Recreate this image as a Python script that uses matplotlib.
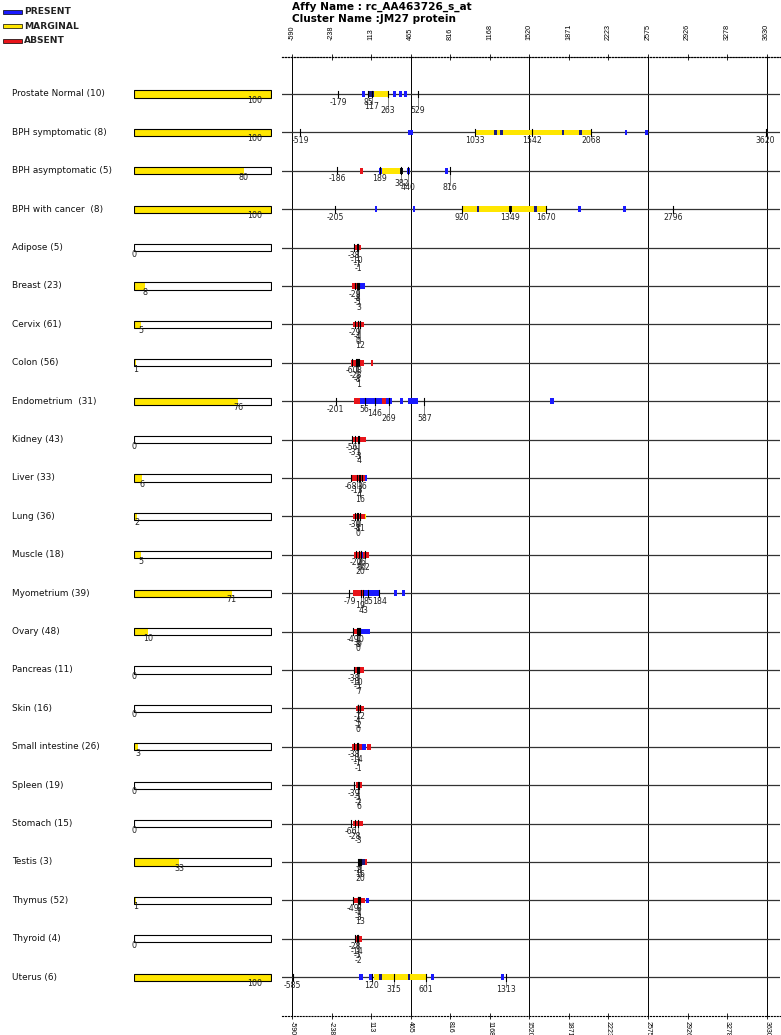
import numpy as np
import matplotlib.pyplot as plt
from matplotlib.patches import Rectangle

# -----------------------------
# DATA
# -----------------------------
affy_name = "rc_AA463726_s_at"
cluster_name = "JM27 protein"

tissues = ["Prostate Normal (10)", "BPH symptomatic (8)", "BPH asymptomatic (5)",
           "BPH with cancer  (8)", "Adipose (5)", "Breast (23)", "Cervix (61)",
           "Colon (56)", "Endometrium  (31)", "Kidney (43)", "Liver (33)", "Lung (36)",
           "Muscle (18)", "Myometrium (39)", "Ovary (48)", "Pancreas (11)", "Skin (16)",
           "Small intestine (26)", "Spleen (19)", "Stomach (15)", "Testis (3)",
           "Thymus (52)", "Thyroid (4)", "Uterus (6)"]
percent = [100, 100, 80, 100, 0, 8, 5, 1, 76, 0, 6, 2, 5, 71, 10, 0, 0, 3, 0, 0, 33, 1, 0, 100]

axis_ticks = [-590, -238, 113, 465, 816, 1168, 1520, 1871, 2223, 2575, 2926, 3278, 3630]
major_lines = [-590, 465, 1520, 2575, 3630]

# segments per row: (start, end, call)  P=present, M=marginal, A=absent, D=dark present, K=black
segments = [
    [(32, 62, "P"), (118, 263, "M"), (83, 139, "D"), (311, 335, "P"), (364, 388, "P"), (408, 435, "P")],
    [(445, 485, "P"), (1033, 2068, "M"), (1208, 1230, "D"), (1259, 1283, "D"), (1808, 1831, "D"),
     (1962, 1986, "D"), (2370, 2391, "P"), (2548, 2572, "P")],
    [(10, 40, "A"), (183, 207, "P"), (207, 400, "M"), (370, 400, "K"), (430, 459, "P"), (770, 794, "P")],
    [(148, 168, "P"), (486, 506, "P"), (920, 1670, "M"), (1051, 1075, "D"), (1339, 1366, "K"),
     (1564, 1588, "D"), (1950, 1977, "P"), (2355, 2379, "P")],
    [(-30, 21, "A")],
    [(-57, 15, "A"), (15, 59, "P")],
    [(-45, 50, "A")],
    [(-65, 50, "A"), (110, 133, "A")],
    [(-39, 15, "A"), (15, 207, "P"), (207, 246, "A"), (246, 296, "P"), (370, 400, "P"),
     (439, 527, "P"), (1705, 1735, "P")],
    [(-51, 68, "A")],
    [(-59, 59, "A"), (59, 80, "P")],
    [(-45, 59, "A"), (59, 70, "M")],
    [(-36, 20, "A"), (20, 45, "P"), (45, 98, "A")],
    [(-45, 44, "A"), (44, 192, "P"), (317, 341, "P"), (390, 415, "P")],
    [(-51, 15, "A"), (15, 103, "P")],
    [(-39, 50, "A")],
    [(-21, 50, "A")],
    [(-59, 30, "A"), (30, 68, "P"), (80, 110, "A")],
    [(-24, 35, "A")],
    [(-45, 44, "A")],
    [(-6, 30, "A"), (30, 60, "D"), (60, 80, "A")],
    [(-39, 59, "A"), (68, 97, "P")],
    [(-30, 30, "A")],
    [(8, 38, "P"), (95, 119, "P"), (139, 607, "M"), (183, 207, "D"), (439, 462, "D"),
     (643, 672, "P"), (1268, 1295, "P")],
]

# labelled probe positions per row: (value, label level)
ticks = [
    [(-179, 1), (85, 1), (117, 2), (263, 3), (529, 3)],
    [(-519, 1), (1033, 1), (1542, 1), (2068, 1), (3620, 1)],
    [(-186, 1), (189, 1), (382, 2), (440, 3), (816, 3)],
    [(-205, 1), (920, 1), (1349, 1), (1670, 1), (2796, 1)],
    [(-38, 1), (-10, 2), (-7, 3), (-1, 4)],
    [(-29, 1), (-8, 2), (-5, 3), (3, 4)],
    [(-29, 1), (-4, 2), (0, 3), (12, 4)],
    [(-60, 1), (8, 1), (-23, 2), (-8, 3), (1, 4)],
    [(-201, 1), (56, 1), (146, 2), (269, 3), (587, 3)],
    [(-56, 1), (-31, 2), (-3, 3), (4, 4)],
    [(-68, 1), (36, 1), (-13, 2), (4, 3), (16, 4)],
    [(-30, 1), (-8, 2), (11, 2), (0, 3)],
    [(-20, 1), (26, 1), (8, 2), (62, 2), (20, 3)],
    [(-79, 1), (85, 1), (184, 1), (19, 2), (43, 3)],
    [(-49, 1), (10, 1), (-8, 2), (9, 2), (0, 3)],
    [(-38, 1), (-10, 2), (-5, 3), (7, 4)],
    [(-7, 1), (12, 1), (-4, 2), (-2, 3), (0, 4)],
    [(-38, 1), (-14, 2), (-7, 3), (-1, 4)],
    [(-39, 1), (-5, 2), (-2, 3), (6, 4)],
    [(-66, 1), (-28, 2), (-3, 3)],
    [(-7, 1), (8, 1), (16, 2), (20, 3)],
    [(-49, 1), (3, 1), (-1, 2), (-3, 3), (13, 4)],
    [(-28, 1), (-14, 2), (-5, 3), (-2, 4)],
    [(-585, 1), (120, 1), (315, 2), (601, 2), (1313, 2)],
]

colors = {"P": "#1a1aff", "M": "#ffe600", "A": "#e8141a", "D": "#1c1c80", "K": "#111111"}
label_offset = [0, 0.21, 0.325, 0.44, 0.555]
tick_font = ["Liberation Sans", "DejaVu Sans"]

# -----------------------------
# FIGURE
# -----------------------------
W, H = 781, 1035
fig = plt.figure(figsize=(W / 100, H / 100), dpi=100)
n = len(tissues)
ylim = (24.01, -0.963)
ax_bottom = (H - 1016) / H
ax_height = (1016 - 57) / H

# track axes
ax = fig.add_axes([282 / W, ax_bottom, 498 / W, ax_height])
ax.set_xlim(-679, 3748)
ax.set_ylim(*ylim)

for x in major_lines:
    ax.axvline(x, color="black", lw=0.7, zorder=1)
for i in range(n):
    ax.axhline(i, color="#333333", lw=0.9, zorder=1)
    for s, e, c in segments[i]:
        ax.barh(i, e - s, left=s, height=0.145, color=colors[c], lw=0, zorder=3)
    for v, lev in ticks[i]:
        ax.plot([v, v], [i - 0.09, i + 0.09], color="black", lw=0.8, zorder=4)
        if lev > 1:
            ax.plot([v, v], [i, i + label_offset[lev] - 0.07], color="#555555", lw=0.5, zorder=2)
        ax.text(v, i + label_offset[lev], str(v), ha="center", va="center",
                fontsize=5.6, color="#222222", zorder=5)

ax.set_yticks([])
for side in ["left", "right"]:
    ax.spines[side].set_visible(False)
for side in ["top", "bottom"]:
    ax.spines[side].set_linestyle(":")
    ax.spines[side].set_linewidth(0.8)

# bottom axis ticks
ax.set_xticks(axis_ticks)
ax.set_xticklabels([str(t) for t in axis_ticks], family=tick_font, fontsize=5, rotation=270)
ax.tick_params(axis="x", direction="inout", length=5, width=0.6, pad=1)

# top axis ticks
top = ax.twiny()
top.set_xlim(ax.get_xlim())
top.set_xticks(axis_ticks)
top.set_xticklabels([str(t) for t in axis_ticks], family=tick_font, fontsize=5.2, rotation=90)
top.tick_params(axis="x", direction="inout", length=5, width=0.6, pad=10)
for side in ["left", "right", "bottom"]:
    top.spines[side].set_visible(False)
top.spines["top"].set_linestyle(":")
top.spines["top"].set_linewidth(0.8)

# percentage bar axes
bx = fig.add_axes([133.5 / W, ax_bottom, (272 - 133.5) / W, ax_height])
bx.set_xlim(-0.5, 100.5)
bx.set_ylim(*ylim)
bx.axis("off")
bx.barh(range(n), [100] * n, height=0.19, color="white", lw=0)
bx.barh(range(n), percent, height=0.19, color="#ffe600", lw=0)
bx.barh(range(n), [100] * n, height=0.19, color="none", edgecolor="black", lw=0.8)
for i, p in enumerate(percent):
    bx.text(min(p, 88), i + 0.17, str(p), ha="center", va="center", fontsize=5.8, color="#222222")

# tissue names
for i, name in enumerate(tissues):
    y = 57 + (i + 0.963) * 38.4
    fig.text(12 / W, 1 - y / H, name, ha="left", va="center", fontsize=6.4, color="#111111")

# header
fig.text(292 / W, 1 - 6.5 / H, "Affy Name : " + affy_name, fontsize=7.6, fontweight="bold", va="center")
fig.text(292 / W, 1 - 19 / H, "Cluster Name :" + cluster_name, fontsize=7.6, fontweight="bold", va="center")

# legend
legend_items = [("PRESENT", "#1a1aff"), ("MARGINAL", "#ffe600"), ("ABSENT", "#e8141a")]
for k, (txt, col) in enumerate(legend_items):
    yc = 11.7 + k * 14.5
    fig.patches.append(Rectangle((3 / W, 1 - (yc + 1.8) / H), 19 / W, 3.6 / H, transform=fig.transFigure,
                                 facecolor=col, edgecolor="black", lw=0.5))
    fig.text(24 / W, 1 - yc / H, txt, fontsize=6.6, fontweight="bold", va="center", color="#222222")

fig.savefig("out.png", dpi=100)
